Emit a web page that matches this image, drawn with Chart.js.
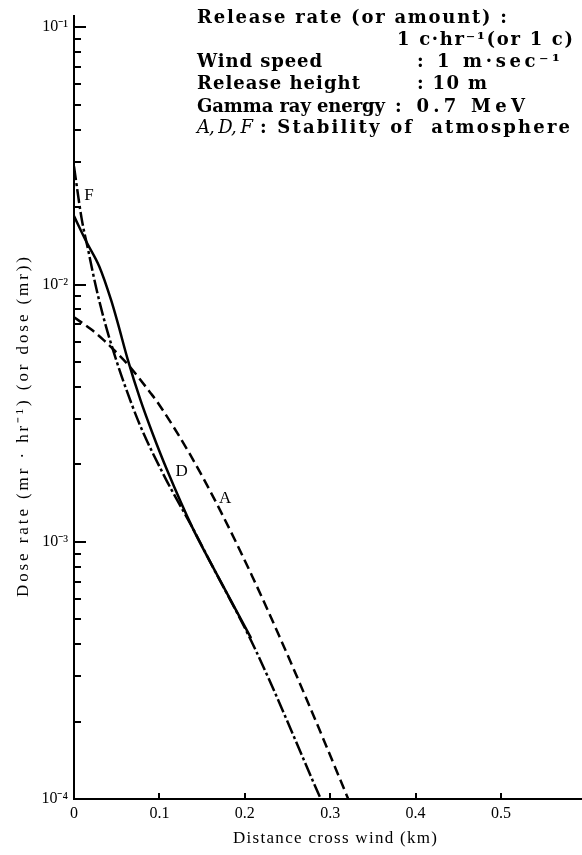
<!DOCTYPE html>
<html>
<head>
<meta charset="utf-8">
<script src="https://cdn.jsdelivr.net/npm/chart.js@4"></script>
<style>
  html, body { margin: 0; padding: 0; background: #fff; }
  #wrap { width: 582px; height: 855px; }
</style>
</head>
<body>
<div id="wrap"><canvas id="c"></canvas></div>
<script>
// curve F (dash-dot)
const distF = [0, 0.0088, 0.0168, 0.0259, 0.0361, 0.0465, 0.058, 0.0775, 0.1065, 0.139, 0.1587, 0.211, 0.289];
const doseF = [0.0288, 0.01815, 0.01352, 0.00973, 0.00713, 0.00546, 0.00419, 0.00283, 0.00178, 0.00113, 0.000845, 0.00039, 0.0001];

// curve D (solid)
const distD = [0, 0.0145, 0.0295, 0.0434, 0.0514, 0.0628, 0.0778, 0.0916, 0.109, 0.139, 0.1587, 0.2074];
const doseD = [0.01845, 0.01466, 0.01178, 0.00871, 0.00706, 0.00513, 0.00356, 0.00266, 0.0019, 0.00113, 0.000845, 0.000422];

// curve A (dashed)
const distA = [0, 0.0196, 0.0348, 0.0453, 0.0628, 0.0896, 0.099, 0.1361, 0.1709, 0.2091, 0.2404, 0.2785, 0.3212];
const doseA = [0.00746, 0.00671, 0.00608, 0.00563, 0.0049, 0.00379, 0.00344, 0.00218, 0.00133, 0.00073, 0.00043, 0.000219, 0.0001];

const xTicks = [0, 0.1, 0.2, 0.3, 0.4, 0.5];
const xLabels = ['0', '0.1', '0.2', '0.3', '0.4', '0.5'];
const yTicks = [1e-4, 1e-3, 1e-2, 1e-1];
const yLabels = ['10⁻⁴', '10⁻³', '10⁻²', '10⁻¹'];

// curve labels: name, x, y (data units)
const curveNames = ['F', 'D', 'A'];
const curveLabelX = [0.0176, 0.126, 0.177];
const curveLabelY = [0.0221, 0.00188, 0.00147];

const pts = (xs, ys) => xs.map((v, i) => ({x: v, y: ys[i]}));

// squeeze/stretch a string into a given width via letter spacing
function fitText(ctx, str, x, yb, w) {
  ctx.letterSpacing = '0px';
  const n = [...str].length;
  const raw = ctx.measureText(str).width;
  ctx.letterSpacing = ((w - raw) / Math.max(n - 1, 1)) + 'px';
  ctx.fillText(str, x, yb);
  ctx.letterSpacing = '0px';
}

const extras = {
  id: 'extras',
  afterDraw(chart) {
    const {ctx, chartArea: a} = chart;
    const x = chart.scales.x, y = chart.scales.y;
    ctx.save();
    ctx.setLineDash([]);
    ctx.strokeStyle = '#000';
    ctx.fillStyle = '#000';
    ctx.lineWidth = 2;

    // y ticks, pointing inward
    ctx.beginPath();
    yTicks.forEach((v, i) => {
      let py = Math.round(y.getPixelForValue(v));
      ctx.moveTo(a.left, py); ctx.lineTo(a.left + 12, py);
      if (i < yTicks.length - 1) {
        for (let m = 2; m <= 9; m++) {
          py = Math.round(y.getPixelForValue(v * m));
          ctx.moveTo(a.left, py); ctx.lineTo(a.left + 7, py);
        }
      }
    });
    // x ticks, pointing up
    xTicks.forEach(v => {
      const px = Math.round(x.getPixelForValue(v));
      ctx.moveTo(px, a.bottom); ctx.lineTo(px, a.bottom - 6);
    });
    ctx.stroke();

    // curve labels
    ctx.font = '17px "Liberation Serif"';
    ctx.textAlign = 'center';
    ctx.textBaseline = 'middle';
    curveNames.forEach((s, i) => {
      ctx.fillText(s, x.getPixelForValue(curveLabelX[i]), y.getPixelForValue(curveLabelY[i]));
    });

    // axis titles
    ctx.textAlign = 'left';
    ctx.textBaseline = 'alphabetic';
    ctx.font = '17px "Liberation Serif"';
    fitText(ctx, 'Distance cross wind (km)', 233, 843, 204);
    ctx.save();
    ctx.translate(28, 427);
    ctx.rotate(-Math.PI / 2);
    fitText(ctx, 'Dose rate (mr · hr⁻¹) (or dose (mr))', -170, 0, 340);
    ctx.restore();

    // parameter block
    const f = 'bold 18px "DejaVu Serif"';
    ctx.font = f;
    fitText(ctx, 'Release rate (or amount) :', 197, 23, 310);
    fitText(ctx, '1 c·hr⁻¹(or 1 c)', 397, 45, 176);
    fitText(ctx, 'Wind speed', 197, 67, 125);
    fitText(ctx, ': 1 m·sec⁻¹', 417, 67, 143);
    fitText(ctx, 'Release height', 197, 89, 163);
    fitText(ctx, ': 10 m', 417, 89, 70);
    fitText(ctx, 'Gamma ray energy', 197, 112, 188);
    fitText(ctx, ': 0.7 MeV', 395, 112, 130);
    ctx.font = 'italic 18px "DejaVu Serif"';
    fitText(ctx, 'A, D, F', 197, 133, 56);
    ctx.font = f;
    fitText(ctx, ': Stability of  atmosphere', 260, 133, 310);
    ctx.restore();
  }
};

const lineStyle = {
  borderColor: '#000',
  borderWidth: 2.5,
  pointRadius: 0,
  fill: false,
  cubicInterpolationMode: 'monotone'
};

new Chart(document.getElementById('c'), {
  type: 'line',
  data: {
    datasets: [
      Object.assign({label: 'F', data: pts(distF, doseF), borderDash: [14, 3, 3, 3]}, lineStyle),
      Object.assign({label: 'D', data: pts(distD, doseD)}, lineStyle),
      Object.assign({label: 'A', data: pts(distA, doseA), borderDash: [10, 5]}, lineStyle)
    ]
  },
  options: {
    responsive: true,
    maintainAspectRatio: false,
    animation: false,
    layout: {padding: {top: 10, left: 0, right: 0, bottom: 0}},
    plugins: {legend: {display: false}, tooltip: {enabled: false}},
    scales: {
      x: {
        type: 'linear',
        min: 0,
        max: 0.595,
        grid: {display: false, drawTicks: false},
        border: {display: true, color: '#000', width: 2},
        afterBuildTicks: s => { s.ticks = xTicks.map(v => ({value: v})); },
        afterFit: s => { s.height = 56; },
        ticks: {
          color: '#000',
          padding: 5,
          autoSkip: false,
          maxRotation: 0,
          font: {family: '"Liberation Serif"', size: 16},
          callback: (v, i) => xLabels[i]
        }
      },
      y: {
        type: 'logarithmic',
        min: 1e-4,
        max: 0.111,
        grid: {display: false, drawTicks: false},
        border: {display: true, color: '#000', width: 2},
        afterBuildTicks: s => { s.ticks = yTicks.map(v => ({value: v})); },
        afterFit: s => { s.width = 74; },
        ticks: {
          color: '#000',
          padding: 6,
          autoSkip: false,
          font: {family: '"Liberation Serif"', size: 16},
          callback: (v, i) => yLabels[i]
        }
      }
    }
  },
  plugins: [extras]
});
</script>
</body>
</html>
